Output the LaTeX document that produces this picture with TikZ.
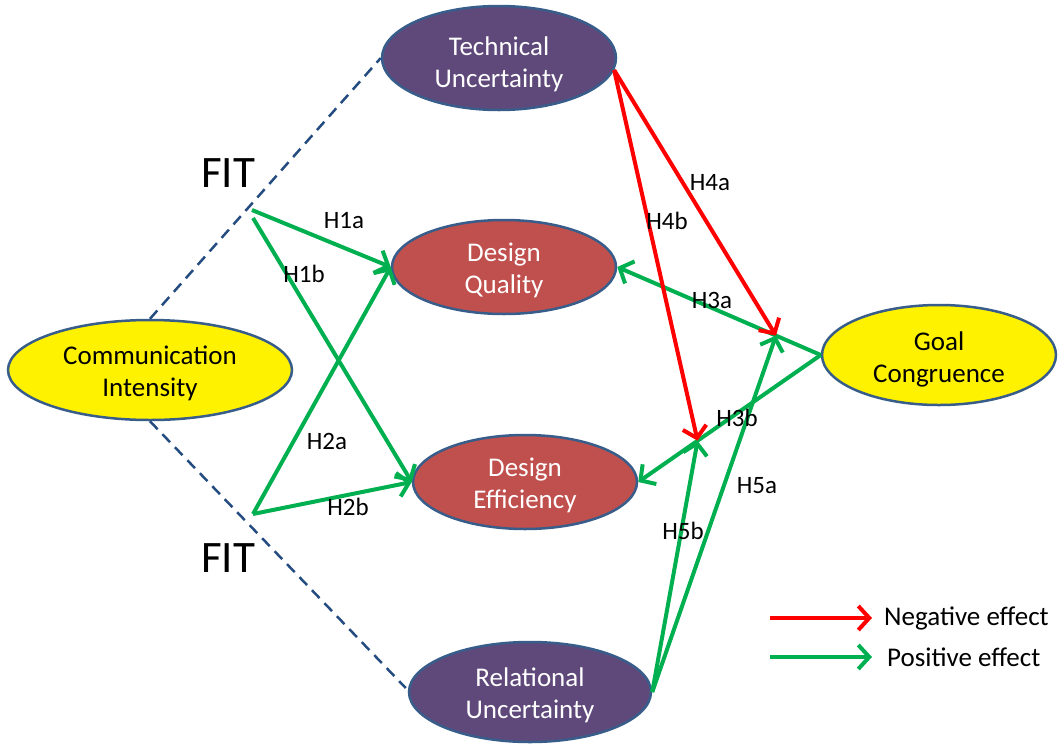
\documentclass[tikz,border=0pt]{standalone}
\usepackage{fontspec}
\setmainfont{Carlito}
\usetikzlibrary{shapes.geometric,arrows.meta,calc}
\definecolor{outline}{HTML}{385D8A}
\definecolor{dashblue}{HTML}{254C80}
\definecolor{purplefill}{HTML}{5F497A}
\definecolor{redfill}{HTML}{C0504D}
\definecolor{posgreen}{HTML}{00B050}
\definecolor{negred}{HTML}{FF0000}
\tikzset{
  construct/.style={ellipse, draw=outline, line width=2.5pt, inner sep=0pt},
  darkc/.style={construct, fill=purplefill},
  midc/.style={construct, fill=redfill},
  lightc/.style={construct, fill=yellow},
  ctext/.style={align=center, inner sep=0pt, font=\fontsize{27}{32}\selectfont},
  fitline/.style={draw=dashblue, line width=2.5pt, dash pattern=on 11pt off 7pt},
  poslink/.style={draw=posgreen, line width=4pt, -{Straight Barb[length=11pt,width=24pt,line width=4pt]}},
  neglink/.style={draw=negred, line width=4pt, -{Straight Barb[length=11pt,width=24pt,line width=4pt]}},
  hyp/.style={font=\fontsize{25}{29}\selectfont, inner sep=0pt},
  fitlabel/.style={font=\fontsize{45}{50}\selectfont, inner sep=0pt},
  legendtext/.style={font=\fontsize{27}{31}\selectfont, inner sep=0pt, anchor=west},
}
\begin{document}
\begin{tikzpicture}[x=1pt,y=-1pt]
\useasboundingbox (0,0) rectangle (1058,745);

% constructs
\node[darkc, minimum width=234pt, minimum height=104pt] (TU) at (499,58) {};
\node[midc, minimum width=224pt, minimum height=94pt] (DQ) at (504,267) {};
\node[midc, minimum width=224pt, minimum height=94pt] (DE) at (525,482) {};
\node[darkc, minimum width=242pt, minimum height=100pt] (RU) at (530,692) {};
\node[lightc, minimum width=284pt, minimum height=100pt] (CI) at (150,370) {};
\node[lightc, minimum width=234pt, minimum height=100pt] (GC) at (939,355) {};

% construct names
\node[ctext, text=white] (TUt) at ($(TU)+(0,6)$) {Technical\\Uncertainty};
\node[ctext, text=white] (DQt) at ($(DQ)+(0,3)$) {Design\\Quality};
\node[ctext, text=white] (DEt) at ($(DE)+(0,3)$) {Design\\Efficiency};
\node[ctext, text=white] (RUt) at ($(RU)+(0,3.5)$) {Relational\\Uncertainty};
\node[ctext] (CIt) at ($(CI)+(0,3.5)$) {Communication\\Intensity};
\node[ctext] (GCt) at ($(GC)+(0,4)$) {Goal\\Congruence};

% fit between communication and uncertainty
\draw[fitline] (CI.north) -- (TU.west);
\draw[fitline] (CI.south) -- ($(RU.west)+(-2,-4)$);
\node[fitlabel] (fit1) at (228,173) {FIT};
\node[fitlabel] (fit2) at (228,558) {FIT};

% starting points of the fit effects
\coordinate (f1a) at (252,210);
\coordinate (f1b) at (253,218);
\coordinate (f2) at (253,514);

\draw[poslink] (f1a) -- (DQ.west);
\draw[poslink] (f1b) -- (DE.west);
\draw[poslink] (f2) -- (DQ.west);
\draw[poslink] (f2) -- (DE.west);

% goal congruence effects
\draw[poslink] (GC.west) -- (DQ.east);
\draw[poslink] (GC.west) -- (DE.east);
\coordinate (m1) at ($(GC.west)!0.22!(DQ.east)$);
\coordinate (m2) at ($(GC.west)!0.675!(DE.east)$);

% moderating effects
\draw[neglink] (TU.-6) -- (m1);
\draw[neglink] (TU.-6) -- (m2);
\draw[poslink] (RU.east) -- (m1);
\draw[poslink] (RU.east) -- (m2);

% hypothesis labels
\node[hyp] (h1a) at (344,221) {H1a};
\node[hyp] (h1b) at (304,274) {H1b};
\node[hyp] (h2a) at (327,441) {H2a};
\node[hyp] (h2b) at (348,507) {H2b};
\node[hyp] (h3a) at (712,300) {H3a};
\node[hyp] (h3b) at (737,418) {H3b};
\node[hyp] (h4a) at (710,183) {H4a};
\node[hyp] (h4b) at (667,221) {H4b};
\node[hyp] (h5a) at (757,486) {H5a};
\node[hyp] (h5b) at (683,531) {H5b};

% legend
\coordinate (ln1) at (770,618);
\coordinate (ln2) at (872,618);
\coordinate (lp1) at (770,657);
\coordinate (lp2) at (872,657);
\draw[neglink] (ln1) -- (ln2);
\draw[poslink] (lp1) -- (lp2);
\node[legendtext] (neg) at (884,618) {Negative effect};
\node[legendtext] (pos) at (887,657) {Positive effect};
\end{tikzpicture}
\end{document}
